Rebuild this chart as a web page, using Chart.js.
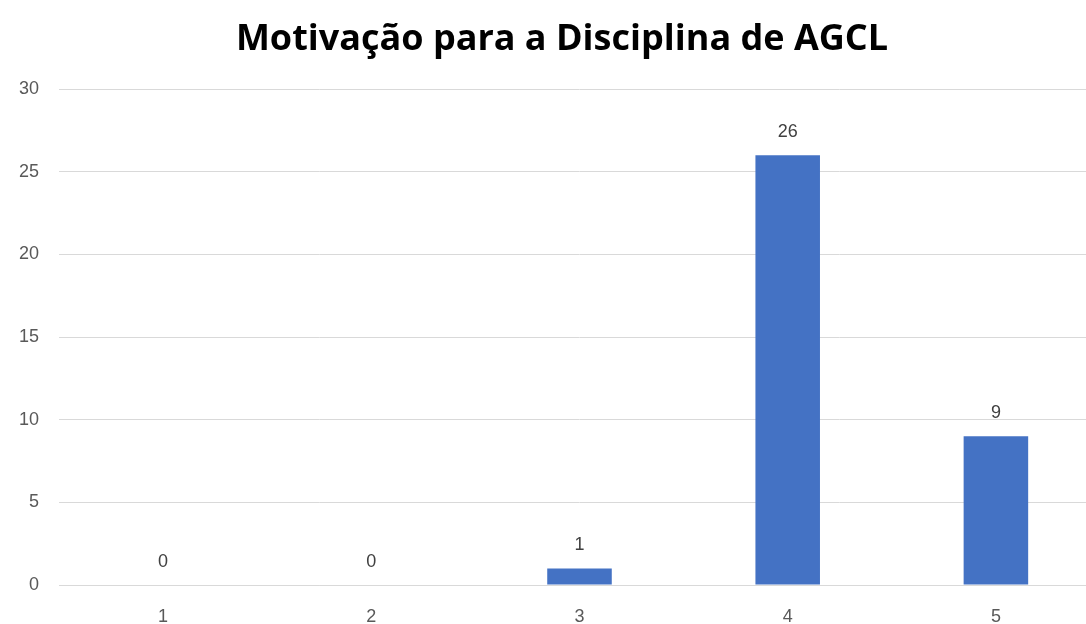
<!DOCTYPE html>
<html>
<head>
<meta charset="utf-8">
<script src="https://cdn.jsdelivr.net/npm/chart.js@4/dist/chart.umd.min.js"></script>
<style>
  html, body { margin: 0; padding: 0; background: #fff; overflow: hidden; }
  #wrap { width: 1100px; height: 624px; }
</style>
</head>
<body>
<div id="wrap"><canvas id="myChart"></canvas></div>
<script>
var categorias = ['1', '2', '3', '4', '5'];
var respostas = [0, 0, 1, 26, 9];
var titulo = 'Motivação para a Disciplina de AGCL';

// rótulos de valor em cima das barras + título
var rotulos = {
	id: 'rotulos',
	afterDatasetsDraw: function(chart) {
		var c = chart.ctx;
		var meta = chart.getDatasetMeta(0);
		c.save();
		c.font = '18px "Liberation Sans", Arial, sans-serif';
		c.fillStyle = '#404040';
		c.textAlign = 'center';
		c.textBaseline = 'bottom';
		meta.data.forEach(function(bar, i) {
			c.fillText(String(respostas[i]), bar.x, bar.y - 14);
		});
		// título (centrado como no original, um pouco à direita)
		c.font = 'bold 36px "Open Sans", sans-serif';
		c.fillStyle = '#000';
		c.textBaseline = 'middle';
		c.fillText(titulo, 562, 40);
		c.restore();
	}
};

var ctx = document.getElementById('myChart');
var myChart = new Chart(ctx, {
	type: 'bar',
	data: {
		labels: categorias,
		datasets: [{
			label: 'Respostas',
			data: respostas,
			backgroundColor: '#4472C4',
			borderWidth: 0,
			barPercentage: 0.31,
			categoryPercentage: 1
		}]
	},
	options: {
		responsive: true,
		maintainAspectRatio: false,
		animation: false,
		layout: { padding: { left: 0, right: 0, top: 89, bottom: 0 } },
		plugins: {
			legend: { display: false },
			tooltip: { enabled: false },
			title: { display: false }
		},
		scales: {
			x: {
				grid: { display: false },
				border: { color: '#d9d9d9' },
				ticks: {
					color: '#595959',
					font: { family: '"Liberation Sans", Arial, sans-serif', size: 18 },
					padding: 13
				},
				afterFit: function(scale) { scale.height = 39; }
			},
			y: {
				min: 0,
				max: 30,
				ticks: {
					stepSize: 5,
					color: '#595959',
					font: { family: '"Liberation Sans", Arial, sans-serif', size: 18 },
					padding: 20
				},
				grid: { color: '#d9d9d9', drawTicks: false },
				border: { display: false },
				afterFit: function(scale) { scale.width = 59; }
			}
		}
	},
	plugins: [rotulos]
});
</script>
</body>
</html>
